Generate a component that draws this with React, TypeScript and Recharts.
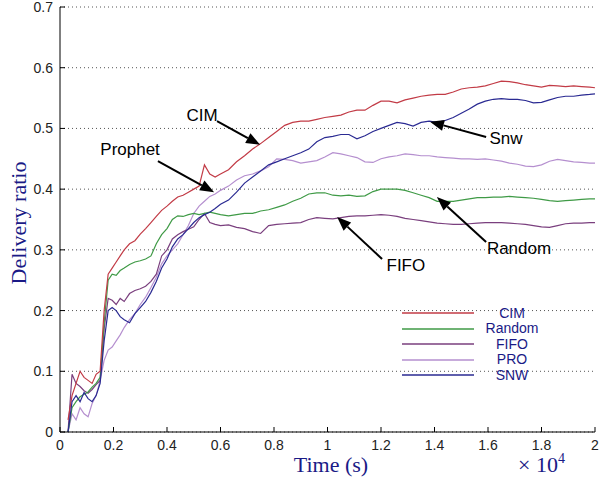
import {
    LineChart,
    Line,
    XAxis,
    YAxis,
    CartesianGrid,
    ReferenceLine,
    ReferenceDot,
    Legend,
} from "recharts";

// simulation time in seconds (axis shows x 10^4)
const times = [
    300, 450, 600, 750, 900, 1050, 1200, 1350, 1500, 1650,
    1800, 1950, 2100, 2250, 2400, 2600, 2800, 3000, 3200, 3400,
    3600, 3800, 4000, 4200, 4400, 4600, 4800, 5000, 5200, 5400,
    5600, 5800, 6000, 6300, 6600, 6900, 7200, 7500, 7800, 8100,
    8400, 8700, 9000, 9300, 9600, 9900, 10200, 10500, 10800, 11100,
    11400, 11700, 12000, 12300, 12600, 12900, 13200, 13500, 13800, 14100,
    14400, 14700, 15000, 15300, 15600, 15900, 16200, 16500, 16800, 17100,
    17400, 17700, 18000, 18300, 18600, 18900, 19200, 19500, 19800, 20000,
];

const cimRatio = [
    0.02, 0.06, 0.08, 0.1, 0.09, 0.085, 0.08, 0.095, 0.1, 0.2,
    0.26, 0.27, 0.28, 0.29, 0.3, 0.31, 0.315, 0.326, 0.335, 0.345,
    0.355, 0.365, 0.372, 0.38, 0.387, 0.39, 0.395, 0.4, 0.405, 0.44,
    0.425, 0.42, 0.425, 0.432, 0.445, 0.455, 0.466, 0.475, 0.485, 0.495,
    0.505, 0.51, 0.512, 0.512, 0.515, 0.518, 0.52, 0.522, 0.527, 0.53,
    0.53, 0.538, 0.545, 0.545, 0.542, 0.547, 0.55, 0.553, 0.555, 0.556,
    0.556, 0.56, 0.565, 0.567, 0.568, 0.57, 0.574, 0.578, 0.577, 0.575,
    0.572, 0.57, 0.568, 0.571, 0.57, 0.569, 0.57, 0.569, 0.568, 0.567,
];

const randomRatio = [
    0.0, 0.04, 0.05, 0.058, 0.062, 0.066, 0.074, 0.08, 0.09, 0.18,
    0.25, 0.26, 0.258, 0.266, 0.27, 0.276, 0.28, 0.282, 0.285, 0.29,
    0.31, 0.325, 0.335, 0.35, 0.356, 0.355, 0.358, 0.36, 0.358, 0.36,
    0.362, 0.36, 0.358, 0.356, 0.358, 0.36, 0.36, 0.364, 0.366, 0.37,
    0.374, 0.38, 0.385, 0.392, 0.394, 0.394, 0.39, 0.389, 0.39, 0.388,
    0.389, 0.396, 0.4, 0.4, 0.4, 0.398, 0.394, 0.39, 0.386, 0.38,
    0.38, 0.38, 0.382, 0.384, 0.386, 0.386, 0.387, 0.387, 0.388, 0.387,
    0.386, 0.385, 0.383, 0.381, 0.38, 0.381, 0.382, 0.383, 0.384, 0.384,
];

const fifoRatio = [
    0.0, 0.095, 0.08, 0.075, 0.068, 0.064, 0.07, 0.078, 0.085, 0.17,
    0.22, 0.217, 0.21, 0.22, 0.215, 0.228, 0.233, 0.236, 0.24, 0.248,
    0.26, 0.29, 0.3, 0.318, 0.325, 0.33, 0.334, 0.338, 0.35, 0.36,
    0.345, 0.342, 0.34, 0.341, 0.337, 0.335, 0.33, 0.327, 0.34, 0.342,
    0.343, 0.344, 0.345, 0.35, 0.353, 0.352, 0.351, 0.353, 0.355, 0.356,
    0.356, 0.357, 0.358, 0.357, 0.355, 0.352, 0.35, 0.348, 0.346, 0.344,
    0.343, 0.342, 0.342, 0.343, 0.344, 0.345, 0.345, 0.345, 0.344, 0.343,
    0.342, 0.34, 0.338, 0.337, 0.34, 0.343, 0.344, 0.344, 0.345, 0.345,
];

const proRatio = [
    0.0, 0.03, 0.02, 0.04, 0.03, 0.025, 0.047, 0.06, 0.085, 0.118,
    0.135, 0.14, 0.15, 0.16, 0.172, 0.185, 0.195, 0.21, 0.222, 0.238,
    0.255, 0.277, 0.29, 0.3, 0.31, 0.325, 0.34, 0.36, 0.372, 0.38,
    0.388, 0.392, 0.398, 0.405, 0.415, 0.422, 0.425, 0.43, 0.437, 0.45,
    0.449, 0.447, 0.443, 0.445, 0.447, 0.453, 0.46, 0.458, 0.455, 0.452,
    0.445, 0.444, 0.45, 0.453, 0.455, 0.458, 0.457, 0.455, 0.455, 0.453,
    0.452, 0.451, 0.45, 0.45, 0.449, 0.45, 0.448, 0.446, 0.443, 0.441,
    0.438, 0.437, 0.44, 0.446, 0.449, 0.447, 0.445, 0.444, 0.443, 0.443,
];

const snwRatio = [
    0.0, 0.05, 0.06, 0.05, 0.065, 0.055, 0.05, 0.06, 0.08, 0.15,
    0.2, 0.205, 0.2, 0.19, 0.185, 0.18, 0.195, 0.205, 0.215, 0.23,
    0.248, 0.27, 0.285, 0.305, 0.318, 0.325, 0.335, 0.345, 0.353, 0.358,
    0.362, 0.368, 0.375, 0.382, 0.395, 0.41, 0.42, 0.43, 0.44, 0.445,
    0.45, 0.455, 0.46, 0.466, 0.478, 0.485, 0.487, 0.49, 0.49, 0.483,
    0.488, 0.495, 0.5, 0.505, 0.51, 0.508, 0.504, 0.51, 0.512, 0.51,
    0.513, 0.518, 0.525, 0.532, 0.54, 0.545, 0.548, 0.549, 0.548, 0.548,
    0.546, 0.542, 0.543, 0.547, 0.551, 0.553, 0.553, 0.555, 0.556, 0.557,
];

const seriesKeys = ["cim", "random", "fifo", "pro", "snw"];
const seriesNames = ["CIM", "Random", "FIFO", "PRO", "SNW"];
const seriesColors = ["#c23b46", "#3f9a46", "#7a3f7e", "#b58fcf", "#2a2a92"];

const xTicks = [0, 2000, 4000, 6000, 8000, 10000, 12000, 14000, 16000, 18000, 20000];
const yTicks = [0, 0.1, 0.2, 0.3, 0.4, 0.5, 0.6, 0.7];

// arrow annotations in data coordinates
const noteLabels = ["CIM", "Prophet", "Snw", "Random", "FIFO"];
const noteTextTime = [5310, 2620, 16670, 17160, 12930];
const noteTextValue = [0.522, 0.4646, 0.484, 0.3015, 0.275];
const arrowFromTime = [5870, 3660, 15930, 15930, 12040];
const arrowFromValue = [0.512, 0.446, 0.486, 0.313, 0.285];
const arrowToTime = [7480, 5760, 13830, 14090, 10360];
const arrowToValue = [0.473, 0.395, 0.511, 0.387, 0.354];

const chartData = times.map((t, i) => ({
    time: t,
    cim: cimRatio[i],
    random: randomRatio[i],
    fifo: fifoRatio[i],
    pro: proRatio[i],
    snw: snwRatio[i],
}));

const tickFont = "Arial, 'Liberation Sans', sans-serif";
const serifFont = "'Liberation Serif', 'Times New Roman', serif";
const titleColor = "#1a1a86";

function BottomTick(props: any) {
    const { x, y, payload } = props;
    return (
        <g>
            <line x1={x} y1={y} x2={x} y2={y - 5} stroke="#000" />
            <text x={x} y={y + 18} textAnchor="middle" fontSize={14} fill="#222" fontFamily={tickFont}>
                {payload.value / 10000}
            </text>
        </g>
    );
}

function TopTick(props: any) {
    const { x, y } = props;
    return <line x1={x} y1={y} x2={x} y2={y + 5} stroke="#000" />;
}

function LeftTick(props: any) {
    const { x, y, payload } = props;
    return (
        <g>
            <line x1={x} y1={y} x2={x + 5} y2={y} stroke="#000" />
            <text x={x - 7} y={y + 5} textAnchor="end" fontSize={14} fill="#222" fontFamily={tickFont}>
                {payload.value}
            </text>
        </g>
    );
}

function RightTick(props: any) {
    const { x, y } = props;
    return <line x1={x} y1={y} x2={x - 5} y2={y} stroke="#000" />;
}

function Arrow(props: any) {
    const { x1, y1, x2, y2 } = props;
    const ang = Math.atan2(y2 - y1, x2 - x1);
    const len = 14;
    const half = 5.5;
    const bx = x2 - len * Math.cos(ang);
    const by = y2 - len * Math.sin(ang);
    const p1 = `${bx + half * Math.sin(ang)},${by - half * Math.cos(ang)}`;
    const p2 = `${bx - half * Math.sin(ang)},${by + half * Math.cos(ang)}`;
    return (
        <g>
            <line x1={x1} y1={y1} x2={bx} y2={by} stroke="#000" strokeWidth={2} />
            <polygon points={`${x2},${y2} ${p1} ${p2}`} fill="#000" />
        </g>
    );
}

function NoteText(label: string) {
    return (props: any) => (
        <text
            x={props.cx}
            y={props.cy}
            textAnchor="middle"
            dominantBaseline="central"
            fontSize={17}
            fill="#000"
            fontFamily={tickFont}
        >
            {label}
        </text>
    );
}

function LegendBox() {
    return (
        <div>
            {seriesNames.map((name, i) => (
                <div key={name} style={{ display: "flex", alignItems: "center", height: 15.5 }}>
                    <svg width={74} height={4} style={{ display: "block" }}>
                        <line x1={1} y1={2} x2={73} y2={2} stroke={seriesColors[i]} strokeWidth={1.5} />
                    </svg>
                    <span
                        style={{
                            width: 74,
                            textAlign: "center",
                            fontSize: 14,
                            lineHeight: "15px",
                            color: titleColor,
                            fontFamily: tickFont,
                        }}
                    >
                        {name}
                    </span>
                </div>
            ))}
        </div>
    );
}

export default function App() {
    const drawOrder = [3, 2, 1, 0, 4];
    return (
        <div style={{ position: "absolute", left: 0, top: 0, width: 600, height: 480, background: "#fff" }}>
            <LineChart
                width={600}
                height={480}
                data={chartData}
                margin={{ top: 7, right: 5, bottom: 18, left: 0 }}
            >
                <CartesianGrid vertical={false} stroke="#555" strokeDasharray="1 3" />
                <XAxis
                    dataKey="time"
                    type="number"
                    domain={[0, 20000]}
                    ticks={xTicks}
                    interval={0}
                    height={30}
                    tickSize={0}
                    tickMargin={0}
                    tick={<BottomTick />}
                    axisLine={{ stroke: "#000" }}
                    allowDataOverflow
                />
                <XAxis
                    xAxisId="top"
                    orientation="top"
                    dataKey="time"
                    type="number"
                    domain={[0, 20000]}
                    ticks={xTicks}
                    interval={0}
                    height={0}
                    tickSize={0}
                    tickMargin={0}
                    tick={<TopTick />}
                    axisLine={{ stroke: "#000" }}
                    allowDataOverflow
                />
                <YAxis
                    type="number"
                    domain={[0, 0.7]}
                    ticks={yTicks}
                    interval={0}
                    width={60}
                    tickSize={0}
                    tickMargin={0}
                    tick={<LeftTick />}
                    axisLine={{ stroke: "#000" }}
                    allowDataOverflow
                />
                <YAxis
                    yAxisId="right"
                    orientation="right"
                    type="number"
                    domain={[0, 0.7]}
                    ticks={yTicks}
                    interval={0}
                    width={0}
                    tickSize={0}
                    tickMargin={0}
                    tick={<RightTick />}
                    axisLine={{ stroke: "#000" }}
                    allowDataOverflow
                />
                {drawOrder.map((i) => (
                    <Line
                        key={seriesKeys[i]}
                        type="linear"
                        dataKey={seriesKeys[i]}
                        name={seriesNames[i]}
                        stroke={seriesColors[i]}
                        strokeWidth={1.2}
                        dot={false}
                        isAnimationActive={false}
                    />
                ))}
                {noteLabels.map((label, i) => (
                    <ReferenceLine
                        key={"arrow-" + label}
                        segment={[
                            { x: arrowFromTime[i], y: arrowFromValue[i] },
                            { x: arrowToTime[i], y: arrowToValue[i] },
                        ]}
                        shape={Arrow}
                    />
                ))}
                {noteLabels.map((label, i) => (
                    <ReferenceDot
                        key={"text-" + label}
                        x={noteTextTime[i]}
                        y={noteTextValue[i]}
                        shape={NoteText(label)}
                    />
                ))}
                <Legend
                    layout="vertical"
                    align="center"
                    verticalAlign="middle"
                    content={<LegendBox />}
                    wrapperStyle={{ left: 401, top: 305.5, width: 150 }}
                />
            </LineChart>
            <div
                style={{
                    position: "absolute",
                    left: 19,
                    top: 223,
                    transform: "translate(-50%, -50%) rotate(-90deg)",
                    whiteSpace: "nowrap",
                    fontFamily: serifFont,
                    fontSize: 22,
                    lineHeight: "22px",
                    color: titleColor,
                }}
            >
                Delivery ratio
            </div>
            <div
                style={{
                    position: "absolute",
                    left: 331,
                    top: 455,
                    transform: "translateX(-50%)",
                    whiteSpace: "nowrap",
                    fontFamily: serifFont,
                    fontSize: 22,
                    lineHeight: "20px",
                    color: titleColor,
                }}
            >
                Time (s)
            </div>
            <div
                style={{
                    position: "absolute",
                    left: 518,
                    top: 455,
                    whiteSpace: "nowrap",
                    fontFamily: serifFont,
                    fontSize: 22,
                    lineHeight: "20px",
                    color: titleColor,
                }}
            >
                × 10
                <span style={{ fontSize: 14, position: "relative", top: -9 }}>4</span>
            </div>
        </div>
    );
}
